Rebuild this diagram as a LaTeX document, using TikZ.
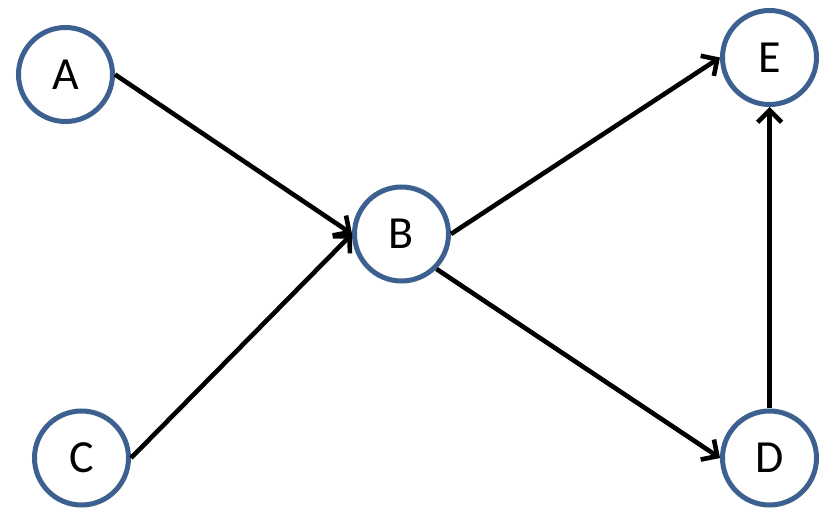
\documentclass[tikz,border=0pt]{standalone}
\usepackage{fontspec}
\setmainfont{Carlito}
\usetikzlibrary{arrows.meta}
\definecolor{nodeblue}{RGB}{60,96,143}
\begin{document}
\begin{tikzpicture}[x=1pt,y=-1pt,
  vert/.style={circle,draw=nodeblue,line width=5pt,fill=white,minimum size=94pt,inner sep=0pt,font=\fontsize{46}{52}\selectfont},
  link/.style={line width=4.6pt,-{Straight Barb[length=12pt,width=24pt,line width=4.6pt]}}]
\useasboundingbox (0,0) rectangle (825,510);
\node[vert] (A) at (65.5,74.5) {A};
\node[vert] (B) at (401.5,234) {B};
\node[vert] (C) at (81.5,458) {C};
\node[vert] (D) at (769.5,458) {D};
\node[vert] (E) at (769.5,57.5) {E};
\draw[link] (A.east) -- (B.west);
\draw[link] (C.east) -- (B.west);
\draw[link] (B.east) -- (E.west);
\draw[link] (B.south east) -- (D.west);
\draw[link] (D.north) -- (E.south);
\end{tikzpicture}
\end{document}
